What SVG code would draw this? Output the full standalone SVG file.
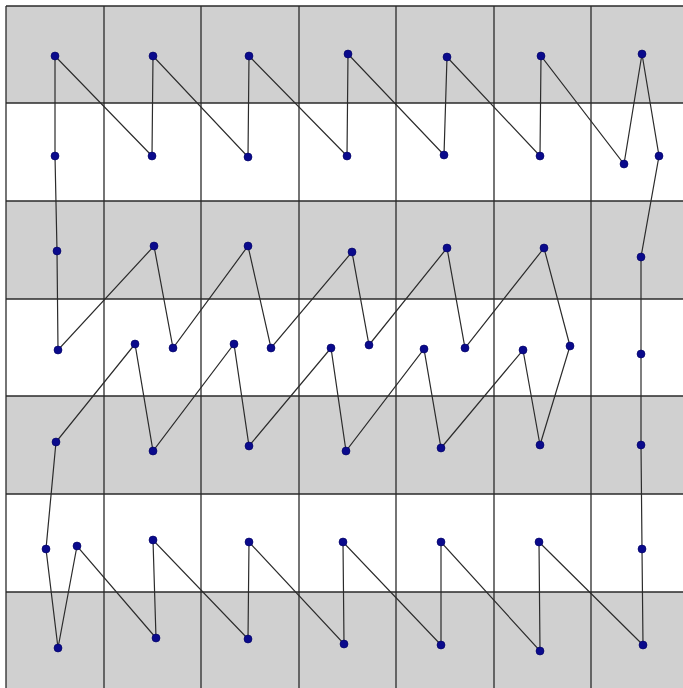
<svg xmlns="http://www.w3.org/2000/svg" width="683" height="688" viewBox="0 0 683 688">
<style>
.band{fill:#d0d0d0}
.grid line{stroke:#2a2a2a;stroke-width:1.3}
.path{fill:none;stroke:#2b2b2b;stroke-width:1.2;stroke-linejoin:miter}
.dot{fill:#0a0a8c;stroke:#000060;stroke-width:0.6}
</style>
<rect x="0" y="0" width="683" height="688" fill="#ffffff"/>
<g id="bands">
<rect class="band" x="6" y="6" width="677" height="97"/>
<rect class="band" x="6" y="201" width="677" height="98"/>
<rect class="band" x="6" y="396" width="677" height="98"/>
<rect class="band" x="6" y="592" width="677" height="96"/>
</g>
<g class="grid" id="grid">
<line x1="6" y1="6" x2="683" y2="6"/>
<line x1="6" y1="103" x2="683" y2="103"/>
<line x1="6" y1="201" x2="683" y2="201"/>
<line x1="6" y1="299" x2="683" y2="299"/>
<line x1="6" y1="396" x2="683" y2="396"/>
<line x1="6" y1="494" x2="683" y2="494"/>
<line x1="6" y1="592" x2="683" y2="592"/>
<line x1="6" y1="6" x2="6" y2="688"/>
<line x1="104" y1="6" x2="104" y2="688"/>
<line x1="201" y1="6" x2="201" y2="688"/>
<line x1="299" y1="6" x2="299" y2="688"/>
<line x1="396" y1="6" x2="396" y2="688"/>
<line x1="494" y1="6" x2="494" y2="688"/>
<line x1="591" y1="6" x2="591" y2="688"/>
</g>
<g id="connectors">
<polygon class="path" points="55,56 55,156 57,251 58,350 154,246 173,348 248,246 271,348 352,252 369,345 447,248 465,348 544,248 570,346 540,445 523,350 441,448 424,349 346,451 331,348 249,446 234,344 153,451 135,344 56,442 46,549 58,648 77,546 156,638 153,540 248,639 249,542 344,644 343,542 441,645 441,542 540,651 539,542 643,645 642,549 641,445 641,354 641,257 659,156 642,54 624,164 541,56 540,156 447,57 444,155 348,54 347,156 249,56 248,157 153,56 152,156"/>
</g>
<g id="nodes">
<g id="n1"><circle class="dot" cx="55" cy="56" r="4"/></g>
<g id="n2"><circle class="dot" cx="153" cy="56" r="4"/></g>
<g id="n3"><circle class="dot" cx="249" cy="56" r="4"/></g>
<g id="n4"><circle class="dot" cx="348" cy="54" r="4"/></g>
<g id="n5"><circle class="dot" cx="447" cy="57" r="4"/></g>
<g id="n6"><circle class="dot" cx="541" cy="56" r="4"/></g>
<g id="n7"><circle class="dot" cx="642" cy="54" r="4"/></g>
<g id="n8"><circle class="dot" cx="55" cy="156" r="4"/></g>
<g id="n9"><circle class="dot" cx="152" cy="156" r="4"/></g>
<g id="n10"><circle class="dot" cx="248" cy="157" r="4"/></g>
<g id="n11"><circle class="dot" cx="347" cy="156" r="4"/></g>
<g id="n12"><circle class="dot" cx="444" cy="155" r="4"/></g>
<g id="n13"><circle class="dot" cx="540" cy="156" r="4"/></g>
<g id="n14"><circle class="dot" cx="624" cy="164" r="4"/></g>
<g id="n15"><circle class="dot" cx="659" cy="156" r="4"/></g>
<g id="n16"><circle class="dot" cx="57" cy="251" r="4"/></g>
<g id="n17"><circle class="dot" cx="154" cy="246" r="4"/></g>
<g id="n18"><circle class="dot" cx="248" cy="246" r="4"/></g>
<g id="n19"><circle class="dot" cx="352" cy="252" r="4"/></g>
<g id="n20"><circle class="dot" cx="447" cy="248" r="4"/></g>
<g id="n21"><circle class="dot" cx="544" cy="248" r="4"/></g>
<g id="n22"><circle class="dot" cx="641" cy="257" r="4"/></g>
<g id="n23"><circle class="dot" cx="58" cy="350" r="4"/></g>
<g id="n24"><circle class="dot" cx="135" cy="344" r="4"/></g>
<g id="n25"><circle class="dot" cx="173" cy="348" r="4"/></g>
<g id="n26"><circle class="dot" cx="234" cy="344" r="4"/></g>
<g id="n27"><circle class="dot" cx="271" cy="348" r="4"/></g>
<g id="n28"><circle class="dot" cx="331" cy="348" r="4"/></g>
<g id="n29"><circle class="dot" cx="369" cy="345" r="4"/></g>
<g id="n30"><circle class="dot" cx="424" cy="349" r="4"/></g>
<g id="n31"><circle class="dot" cx="465" cy="348" r="4"/></g>
<g id="n32"><circle class="dot" cx="523" cy="350" r="4"/></g>
<g id="n33"><circle class="dot" cx="570" cy="346" r="4"/></g>
<g id="n34"><circle class="dot" cx="641" cy="354" r="4"/></g>
<g id="n35"><circle class="dot" cx="56" cy="442" r="4"/></g>
<g id="n36"><circle class="dot" cx="153" cy="451" r="4"/></g>
<g id="n37"><circle class="dot" cx="249" cy="446" r="4"/></g>
<g id="n38"><circle class="dot" cx="346" cy="451" r="4"/></g>
<g id="n39"><circle class="dot" cx="441" cy="448" r="4"/></g>
<g id="n40"><circle class="dot" cx="540" cy="445" r="4"/></g>
<g id="n41"><circle class="dot" cx="641" cy="445" r="4"/></g>
<g id="n42"><circle class="dot" cx="46" cy="549" r="4"/></g>
<g id="n43"><circle class="dot" cx="77" cy="546" r="4"/></g>
<g id="n44"><circle class="dot" cx="153" cy="540" r="4"/></g>
<g id="n45"><circle class="dot" cx="249" cy="542" r="4"/></g>
<g id="n46"><circle class="dot" cx="343" cy="542" r="4"/></g>
<g id="n47"><circle class="dot" cx="441" cy="542" r="4"/></g>
<g id="n48"><circle class="dot" cx="539" cy="542" r="4"/></g>
<g id="n49"><circle class="dot" cx="642" cy="549" r="4"/></g>
<g id="n50"><circle class="dot" cx="58" cy="648" r="4"/></g>
<g id="n51"><circle class="dot" cx="156" cy="638" r="4"/></g>
<g id="n52"><circle class="dot" cx="248" cy="639" r="4"/></g>
<g id="n53"><circle class="dot" cx="344" cy="644" r="4"/></g>
<g id="n54"><circle class="dot" cx="441" cy="645" r="4"/></g>
<g id="n55"><circle class="dot" cx="540" cy="651" r="4"/></g>
<g id="n56"><circle class="dot" cx="643" cy="645" r="4"/></g>
</g>
</svg>
